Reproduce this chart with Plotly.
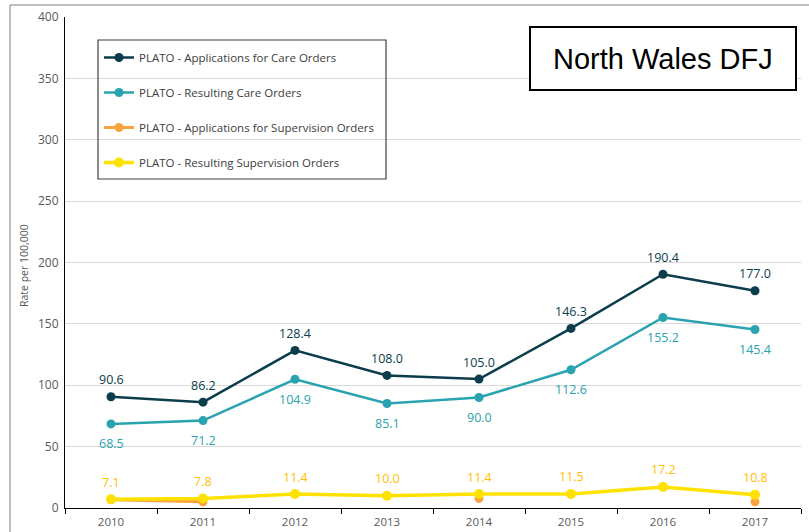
import plotly.graph_objects as go

years = ["2010", "2011", "2012", "2013", "2014", "2015", "2016", "2017"]
app_care = [90.6, 86.2, 128.4, 108.0, 105.0, 146.3, 190.4, 177.0]
res_care = [68.5, 71.2, 104.9, 85.1, 90.0, 112.6, 155.2, 145.4]
app_sup = [6.8, 5.0, None, None, 7.8, None, None, 5.0]
res_sup = [7.1, 7.8, 11.4, 10.0, 11.4, 11.5, 17.2, 10.8]

names = [
    "PLATO - Applications for Care Orders",
    "PLATO - Resulting Care Orders",
    "PLATO - Applications for Supervision Orders",
    "PLATO - Resulting Supervision Orders",
]

W, H = 809, 532
L, R, T, B = 65, 8, 17, 24
PW, PH = W - L - R, H - T - B

def px(x):
    return (x - L) / PW

def py(y):
    return (H - B - y) / PH

FONT = "Open Sans"
C_APP, C_RES, C_ASUP, C_RSUP, C_RSUP_T = "#0b3d4c", "#2aa3b0", "#f8a33e", "#ffe100", "#ffc000"

fig = go.Figure()

fig.add_trace(go.Scatter(
    x=years, y=app_care, name=names[0], legendgroup="a", mode="lines+markers",
    line=dict(color=C_APP, width=2.5), marker=dict(size=9, color=C_APP), cliponaxis=False))
fig.add_trace(go.Scatter(
    x=years, y=res_care, name=names[1], legendgroup="b", mode="lines+markers",
    line=dict(color=C_RES, width=2.5), marker=dict(size=9, color=C_RES), cliponaxis=False))
fig.add_trace(go.Scatter(
    x=years, y=app_sup, name=names[2], legendgroup="c", mode="lines+markers", connectgaps=False,
    line=dict(color=C_ASUP, width=3), marker=dict(size=9, color=C_ASUP), cliponaxis=False))
fig.add_trace(go.Scatter(
    x=years, y=res_sup, name=names[3], legendgroup="d", mode="lines+markers",
    line=dict(color=C_RSUP, width=3.5), marker=dict(size=10, color=C_RSUP), cliponaxis=False))

annotations = []
for series, color, shift in [(app_care, C_APP, 17), (res_care, C_RES, -20), (res_sup, C_RSUP_T, 17)]:
    for i, yv in enumerate(series):
        annotations.append(dict(x=i, y=yv, xref="x", yref="y", text=f"{yv:.1f}", showarrow=False,
                                yshift=shift, xanchor="center", yanchor="middle",
                                font=dict(family=FONT, size=12.5, color=color)))

shapes = [
    dict(type="rect", xref="paper", yref="paper", x0=px(98), x1=px(386), y0=py(179), y1=py(40),
         line=dict(color="#404040", width=1.2), fillcolor="rgba(0,0,0,0)", layer="above"),
    dict(type="rect", xref="paper", yref="paper", x0=px(530), x1=px(796), y0=py(90), y1=py(27),
         line=dict(color="#000000", width=2), fillcolor="white", layer="above"),
    dict(type="line", xref="paper", yref="paper", x0=px(10), x1=px(10), y0=py(540), y1=py(5),
         line=dict(color="#7f7f7f", width=1)),
    dict(type="line", xref="paper", yref="paper", x0=px(10), x1=px(815), y0=py(5), y1=py(5),
         line=dict(color="#7f7f7f", width=1)),
]

annotations += [
    dict(text="North Wales DFJ", xref="paper", yref="paper", x=px(663), y=py(59),
         showarrow=False, xanchor="center", yanchor="middle",
         font=dict(family="Liberation Sans", size=29, color="#000000")),
    dict(text="Rate per 100,000", xref="paper", yref="paper", x=px(24), y=py(266),
         showarrow=False, textangle=-90, xanchor="center", yanchor="middle",
         font=dict(family=FONT, size=10.5, color="#595959")),
]

fig.update_layout(
    width=W, height=H,
    margin=dict(l=L, r=R, t=T, b=B, autoexpand=False),
    paper_bgcolor="white", plot_bgcolor="white",
    font=dict(family=FONT, color="#595959", size=11),
    showlegend=True,
    legend=dict(x=px(99), y=py(43), xanchor="left", yanchor="top",
                bgcolor="rgba(0,0,0,0)", borderwidth=0, tracegroupgap=16,
                font=dict(family=FONT, size=11.5, color="#404040"),
                itemwidth=30),
    shapes=shapes, annotations=annotations,
)

fig.update_xaxes(type="category", range=[-0.5, 7.5], showline=True, linecolor="#000000",
                 linewidth=1, ticks="outside", tickson="boundaries", ticklen=5,
                 tickcolor="#000000", showgrid=False, ticklabelstandoff=3, automargin=False,
                 tickfont=dict(size=11.5, color="#595959"))
fig.update_yaxes(range=[0, 400], dtick=50, showline=True, linecolor="#000000", linewidth=1,
                 showgrid=True, gridcolor="#d9d9d9", gridwidth=1, zeroline=False, automargin=False,
                 ticks="", ticklabelstandoff=3, tickfont=dict(size=12, color="#595959"))

fig.write_html("out.html", config={"displayModeBar": False})

with open("out.html", "r", encoding="utf-8") as f:
    html = f.read()
html = html.replace("<head>", "<head><style>html,body{margin:0;padding:0;}</style>", 1)
with open("out.html", "w", encoding="utf-8") as f:
    f.write(html)
